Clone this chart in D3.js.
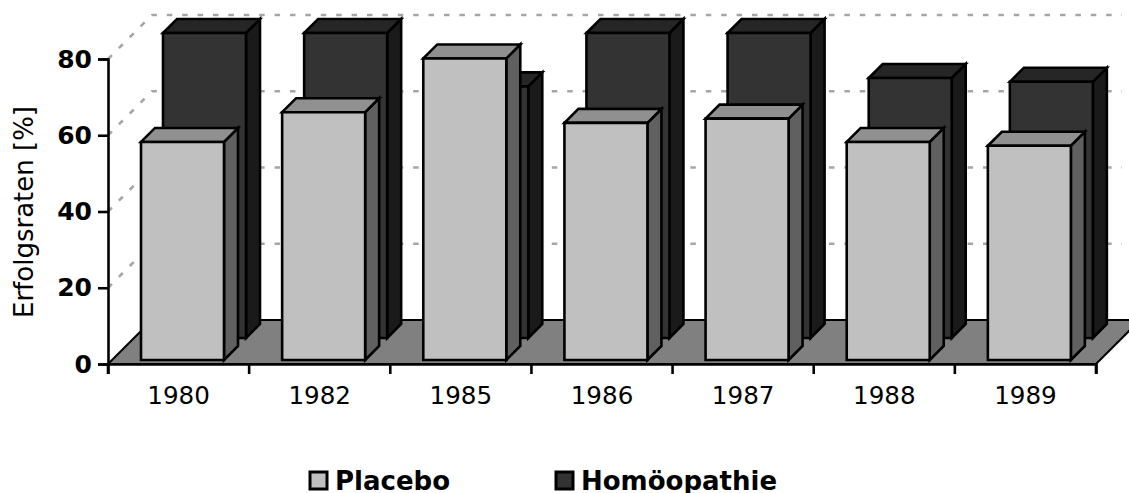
<!DOCTYPE html>
<html><head><meta charset="utf-8">
<script src="https://cdn.jsdelivr.net/npm/d3@7"></script>
<style>html,body{margin:0;padding:0;background:#fff;overflow:hidden}svg{display:block}text{font-family:"DejaVu Sans",Verdana,sans-serif;fill:#000}</style>
</head><body><svg id="c" width="1129" height="493"></svg>
<script>
const years = ["1980","1982","1985","1986","1987","1988","1989"];
const placebo = [57.2,65,79.1,62.2,63.3,57.2,56.2];
const homoeopathie = [80,80,66,80,80,68.2,67.2];
const yTicks = [0,20,40,60,80];
const gridValues = [20,40,60,80];
const svg = d3.select("#c");
const x = d3.scaleBand().domain(years).range([108,1096]);
const y = d3.scaleLinear().domain([0,80]).range([364,59]);
const wall = 44, barW = 83, barD = 14, barInset = 29;

// floor
svg.append("polygon")
  .attr("points",[[108,364],[1096,364],[1096+wall,364-wall],[108+wall,364-wall]].join(" "))
  .attr("fill","#808080").attr("stroke","#000").attr("stroke-width",2);

// gridlines
const gridG = svg.append("g").attr("fill","none").attr("stroke","#a6a6a6").attr("stroke-width",2.6).attr("stroke-dasharray","5.5 9.9");
gridValues.forEach(v=>{
  gridG.append("path").attr("d",`M${108},${y(v)}L${108+wall},${y(v)-wall}L1122,${y(v)-wall}`);
});
// back-wall lines at the top and their diagonals follow the 80 line; the remaining wall line at 0+20 step is above
function bar(g,year,val,depth,c){
  const l = x(year)+barInset+depth, r = l+barW, b = y(0)-depth, t = y(val)-depth;
  const poly = (pts,fill)=>g.append("polygon").attr("points",pts.join(" ")).attr("fill",fill)
    .attr("stroke","#000").attr("stroke-width",2.6).attr("stroke-linejoin","miter");
  poly([[r,t],[r+barD,t-barD],[r+barD,b-barD],[r,b]],c.side);
  poly([[l,t],[l+barD,t-barD],[r+barD,t-barD],[r,t]],c.top);
  poly([[l,t],[r,t],[r,b],[l,b]],c.front);
}
const dark = {front:"#333333",top:"#262626",side:"#1a1a1a"};
const light = {front:"#c0c0c0",top:"#909090",side:"#606060"};
const bars = svg.append("g");
years.forEach((yr,i)=>bar(bars,yr,homoeopathie[i],26,dark));
years.forEach((yr,i)=>bar(bars,yr,placebo[i],4,light));

// axes
const ax = svg.append("g").attr("transform","translate(0,364)")
  .call(d3.axisBottom(x).tickSizeOuter(0).tickSize(10));
ax.selectAll(".tick line").remove();
ax.selectAll(".tick text").attr("font-size",24.6).attr("font-family",'"DejaVu Sans"').attr("y",40).attr("dy","0");
ax.select(".domain").attr("stroke","#000").attr("stroke-width",2.6);
ax.selectAll("line.edge").data(d3.range(years.length+1)).enter().append("line").attr("class","edge")
  .attr("x1",i=>108+i*x.step()).attr("x2",i=>108+i*x.step()).attr("y1",0).attr("y2",10)
  .attr("stroke","#000").attr("stroke-width",2.6);

const ay = svg.append("g").attr("transform","translate(108,0)")
  .call(d3.axisLeft(y).tickValues(yTicks).tickFormat(d3.format("d")).tickSize(10).tickPadding(6));
ay.selectAll(".tick line").attr("stroke","#000").attr("stroke-width",2.6);
ay.selectAll(".tick text").attr("font-size",25).attr("font-weight","bold").attr("font-family",'"DejaVu Sans"');
ay.select(".domain").attr("stroke","#000").attr("stroke-width",2.6);

svg.append("text").attr("transform","translate(33,212) rotate(-90)").attr("text-anchor","middle")
  .attr("font-size",26).text("Erfolgsraten [%]");

// legend
const legend = [["Placebo","#c0c0c0",310],["Homöopathie","#333333",556]];
legend.forEach(([t,f,lx])=>{
  svg.append("rect").attr("x",lx).attr("y",472).attr("width",17).attr("height",17).attr("fill",f).attr("stroke","#000").attr("stroke-width",3);
  svg.append("text").attr("x",lx+25).attr("y",490).attr("font-size",26).attr("font-weight","bold").text(t);
});
</script></body></html>
